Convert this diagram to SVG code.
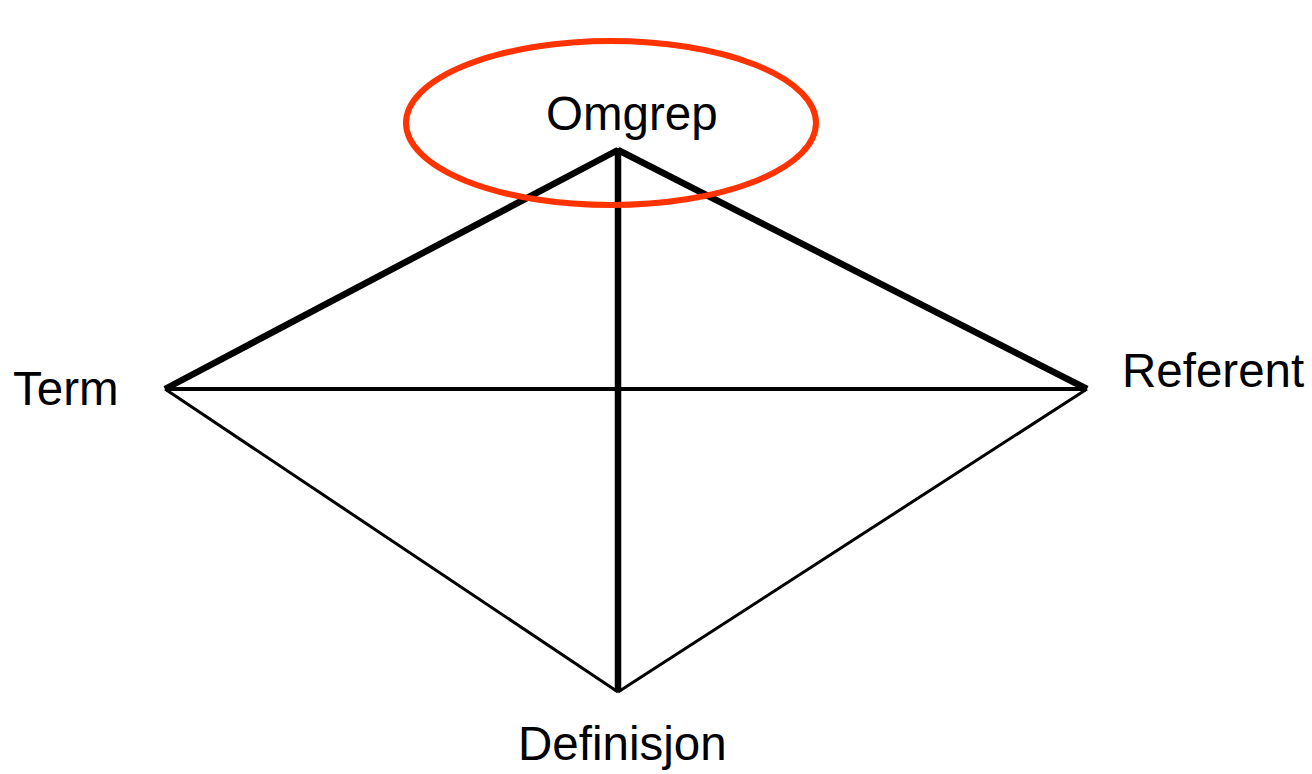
<svg xmlns="http://www.w3.org/2000/svg" width="1312" height="774" viewBox="0 0 1312 774">
<style>
.lbl{font-family:"Liberation Sans",Arial,sans-serif;font-size:47.5px;fill:#000}
.thick{stroke:#000;stroke-width:6.5;fill:none;stroke-linecap:butt}
.mid{stroke:#000;stroke-width:4;fill:none}
.thin{stroke:#000;stroke-width:3;fill:none}
</style>
<rect width="1312" height="774" fill="#fff"/>
<g id="connectors">
<line class="thin" x1="165" y1="389" x2="618" y2="692"/>
<line class="thin" x1="1087" y1="389" x2="618" y2="692"/>
<line class="mid" x1="165" y1="389" x2="1087" y2="389"/>
<line class="thick" x1="165" y1="389" x2="618" y2="150"/>
<line class="thick" x1="1087" y1="389" x2="618" y2="150"/>
<line class="thick" x1="618" y1="148" x2="618" y2="692"/>
</g>
<g id="omgrep">
<ellipse cx="611" cy="123" rx="205" ry="82" fill="none" stroke="#ff3300" stroke-width="6"/>
<text class="lbl" x="546" y="130">Omgrep</text>
</g>
<g id="term"><text class="lbl" x="13" y="405">Term</text></g>
<g id="referent"><text class="lbl" x="1122" y="387">Referent</text></g>
<g id="definisjon"><text class="lbl" x="518" y="760">Definisjon</text></g>
</svg>
